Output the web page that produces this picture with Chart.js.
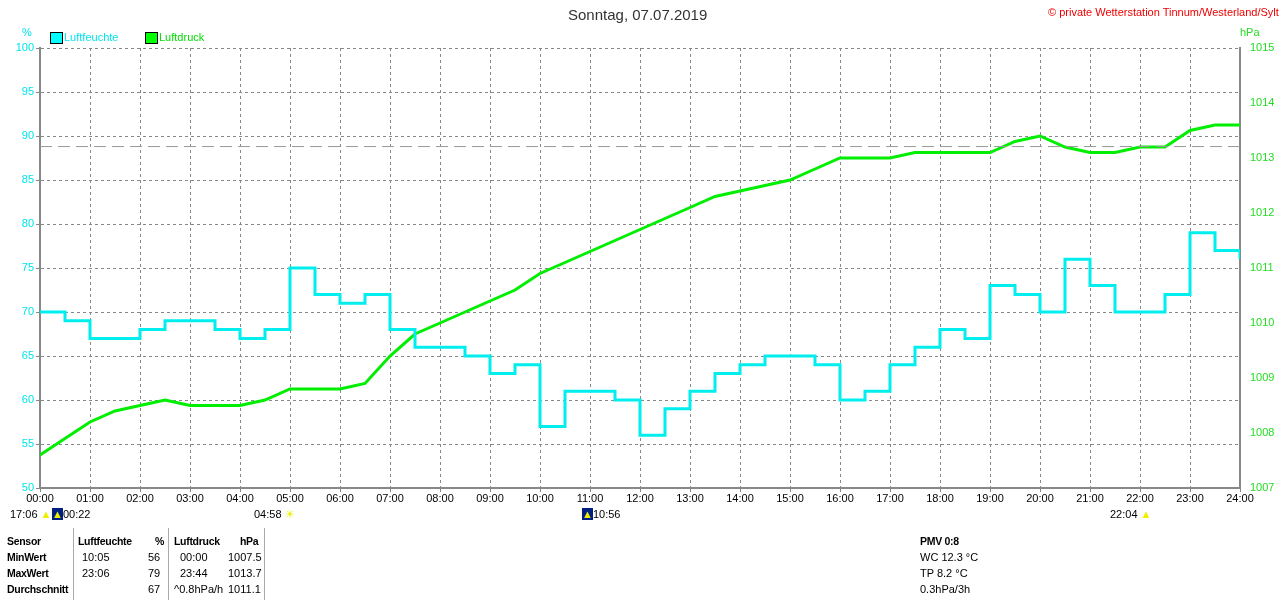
<!DOCTYPE html>
<html><head><meta charset="utf-8">
<script src="https://cdn.jsdelivr.net/npm/chart.js@4"></script>
<style>
body{margin:0;background:#fff;font-family:"Liberation Sans",Arial,sans-serif;}
#wrap{position:relative;width:1280px;height:600px;}
canvas{position:absolute;left:0;top:0;}
.t{position:absolute;font-size:11px;white-space:nowrap;}
.b{font-weight:bold;font-size:10.5px;letter-spacing:-0.3px;}
.vl{position:absolute;width:1px;background:#aaa;top:528px;height:72px;}
</style></head><body>
<div id="wrap">
<canvas id="c" width="1280" height="600"></canvas>
<div class="t" style="left:568px;top:6px;font-size:15px;color:#333">Sonntag, 07.07.2019</div>
<div class="t" style="left:1048px;top:6px;color:#e00">© private Wetterstation Tinnum/Westerland/Sylt</div>
<div class="t" style="left:22px;top:26px;color:#00e5ee">%</div>
<div class="t" style="left:1240px;top:26px;color:#22dd22">hPa</div>
<div class="t" style="left:50px;top:32px;width:11px;height:10px;border:1px solid #000;background:#00ffff"></div>
<div class="t" style="left:64px;top:31px;color:#00e5ee">Luftfeuchte</div>
<div class="t" style="left:145px;top:32px;width:11px;height:10px;border:1px solid #000;background:#00ff00"></div>
<div class="t" style="left:159px;top:31px;color:#00dd00">Luftdruck</div>
<div class="t" style="left:10px;top:508px">17:06 <span style="color:#ee0">▲</span></div>
<div class="t" style="left:52px;top:508px"><span style="background:#002080;color:#ee0">▲</span>00:22</div>
<div class="t" style="left:254px;top:508px">04:58 <span style="color:#ee0">☀</span></div>
<div class="t" style="left:582px;top:508px"><span style="background:#002080;color:#ee0">▲</span>10:56</div>
<div class="t" style="left:1110px;top:508px">22:04 <span style="color:#ee0">▲</span></div>
<div class="vl" style="left:73px"></div><div class="vl" style="left:168px"></div><div class="vl" style="left:264px"></div>
<div class="t b" style="left:7px;top:535px">Sensor</div>
<div class="t b" style="left:7px;top:551px">MinWert</div>
<div class="t b" style="left:7px;top:567px">MaxWert</div>
<div class="t b" style="left:7px;top:583px">Durchschnitt</div>
<div class="t b" style="left:78px;top:535px">Luftfeuchte</div><div class="t b" style="left:155px;top:535px">%</div>
<div class="t" style="left:82px;top:551px">10:05</div><div class="t" style="left:148px;top:551px">56</div>
<div class="t" style="left:82px;top:567px">23:06</div><div class="t" style="left:148px;top:567px">79</div>
<div class="t" style="left:148px;top:583px">67</div>
<div class="t b" style="left:174px;top:535px">Luftdruck</div><div class="t b" style="left:240px;top:535px">hPa</div>
<div class="t" style="left:180px;top:551px">00:00</div><div class="t" style="left:228px;top:551px">1007.5</div>
<div class="t" style="left:180px;top:567px">23:44</div><div class="t" style="left:228px;top:567px">1013.7</div>
<div class="t" style="left:174px;top:583px">^0.8hPa/h</div><div class="t" style="left:228px;top:583px">1011.1</div>
<div class="t b" style="left:920px;top:535px">PMV 0:8</div>
<div class="t" style="left:920px;top:551px">WC 12.3 °C</div>
<div class="t" style="left:920px;top:567px">TP 8.2 °C</div>
<div class="t" style="left:920px;top:583px">0.3hPa/3h</div>
</div>
<script>
// half-hour steps from 00:00 to 24:00
const hours = [0,0.5,1,1.5,2,2.5,3,3.5,4,4.5,5,5.5,6,6.5,7,7.5,8,8.5,9,9.5,10,10.5,11,11.5,12,12.5,13,13.5,14,14.5,15,15.5,16,16.5,17,17.5,18,18.5,19,19.5,20,20.5,21,21.5,22,22.5,23,23.5,24];
const humidity = [70,69,67,67,68,69,69,68,67,68,75,72,71,72,68,66,66,65,63,64,57,61,61,60,56,59,61,63,64,65,65,64,60,61,64,66,68,67,73,72,70,76,73,70,70,72,79,77,76];
const pressure = [1007.6,1007.9,1008.2,1008.4,1008.5,1008.6,1008.5,1008.5,1008.5,1008.6,1008.8,1008.8,1008.8,1008.9,1009.4,1009.8,1010.0,1010.2,1010.4,1010.6,1010.9,1011.1,1011.3,1011.5,1011.7,1011.9,1012.1,1012.3,1012.4,1012.5,1012.6,1012.8,1013.0,1013.0,1013.0,1013.1,1013.1,1013.1,1013.1,1013.3,1013.4,1013.2,1013.1,1013.1,1013.2,1013.2,1013.5,1013.6,1013.6];
const refLevel = 88.8;
const grid = {color:'#888', drawTicks:true, tickLength:4};
const border = {color:'#888', width:2, dash:[3,3]};
new Chart(document.getElementById('c'), {
  type:'line',
  data:{datasets:[
    {data:hours.map(h=>({x:h,y:refLevel})), borderColor:'#999', borderWidth:1, borderDash:[12,6], pointRadius:0, yAxisID:'y'},
    {data:hours.map((h,i)=>({x:h,y:humidity[i]})), borderColor:'#00eeee', borderWidth:3, stepped:true, pointRadius:0, yAxisID:'y'},
    {data:hours.map((h,i)=>({x:h,y:pressure[i]})), borderColor:'#00ee00', borderWidth:3, pointRadius:0, yAxisID:'y2'}
  ]},
  options:{
    responsive:false, animation:false,
    layout:{padding:{top:48,bottom:92}},
    plugins:{legend:{display:false},tooltip:{enabled:false}},
    scales:{
      x:{type:'linear',min:0,max:24,afterFit:s=>{s.height=20;},
        ticks:{stepSize:1,color:'#000',font:{size:11},maxRotation:0,padding:0,callback:v=>String(v).padStart(2,'0')+':00'},
        grid:grid, border:border},
      y:{position:'left',min:50,max:100,afterFit:s=>{s.width=40;},
        ticks:{stepSize:5,color:'#00e5ee',font:{size:11},padding:2},
        grid:grid, border:border},
      y2:{position:'right',min:1007,max:1015,afterFit:s=>{s.width=40;},
        ticks:{stepSize:1,color:'#22dd22',font:{size:11},padding:2,callback:v=>String(v)},
        grid:{display:false}, border:{color:'#888',width:2}}
    }
  }
});
</script>
</body></html>
